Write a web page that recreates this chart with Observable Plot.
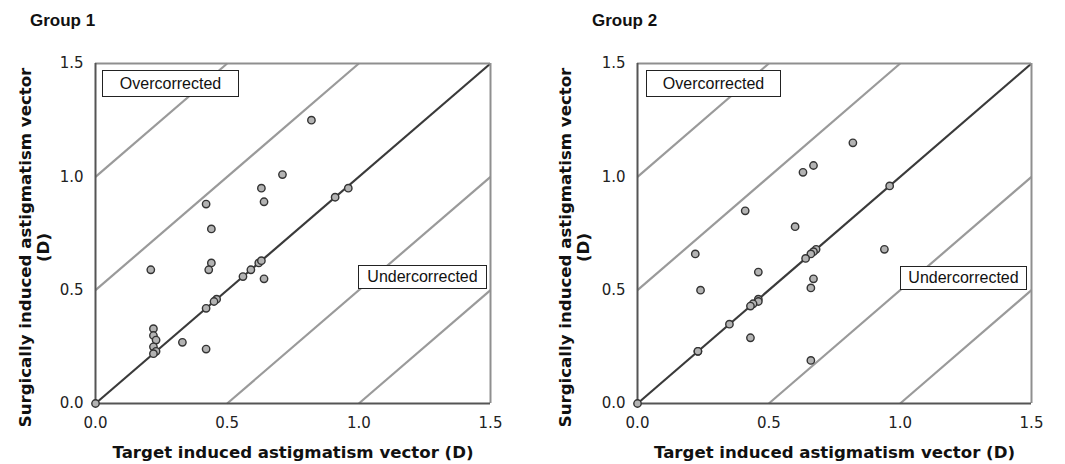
<!DOCTYPE html>
<html>
<head>
<meta charset="utf-8">
<script src="https://cdn.jsdelivr.net/npm/d3@7"></script>
<script src="https://cdn.jsdelivr.net/npm/@observablehq/plot@0.6"></script>
<style>
  html, body { margin: 0; padding: 0; background: white; }
  #fig { position: relative; width: 1065px; height: 464px; overflow: hidden; }
  .panel { position: absolute; top: 0; }
  .gtitle { position: absolute; top: 11px; font: bold 17px "Liberation Sans", Arial, sans-serif; color: #111; }
  .box { position: absolute; box-sizing: border-box; border: 1.5px solid #222; background: white;
         font: 16px "Liberation Sans", Arial, sans-serif; color: #111; display: flex; align-items: center; justify-content: center; }
</style>
</head>
<body>
<div id="fig"></div>
<script>
// ---- data ----
const groupNames = ["Group 1", "Group 2"];
const xTitle = "Target induced astigmatism vector (D)";
const yTitle = "Surgically induced astigmatism vector\n(D)";
const overLabel = "Overcorrected";
const underLabel = "Undercorrected";
const tickValues = [0, 0.5, 1.0, 1.5];
const guideOffsets = [1.0, 0.5, -0.5, -1.0];

const group1Target = [0.00, 0.82, 0.71, 0.63, 0.64, 0.96, 0.91, 0.42, 0.44, 0.44, 0.43, 0.21, 0.59, 0.62, 0.63, 0.56, 0.64, 0.46, 0.45, 0.42, 0.22, 0.22, 0.23, 0.22, 0.23, 0.22, 0.33, 0.42];
const group1Surgical = [0.00, 1.25, 1.01, 0.95, 0.89, 0.95, 0.91, 0.88, 0.77, 0.62, 0.59, 0.59, 0.59, 0.62, 0.63, 0.56, 0.55, 0.46, 0.45, 0.42, 0.33, 0.30, 0.28, 0.25, 0.23, 0.22, 0.27, 0.24];

const group2Target = [0.00, 0.82, 0.67, 0.63, 0.96, 0.41, 0.60, 0.94, 0.68, 0.67, 0.66, 0.64, 0.22, 0.46, 0.67, 0.66, 0.24, 0.46, 0.46, 0.44, 0.43, 0.35, 0.43, 0.23, 0.23, 0.66];
const group2Surgical = [0.00, 1.15, 1.05, 1.02, 0.96, 0.85, 0.78, 0.68, 0.68, 0.67, 0.66, 0.64, 0.66, 0.58, 0.55, 0.51, 0.50, 0.46, 0.45, 0.44, 0.43, 0.35, 0.29, 0.23, 0.23, 0.19];

// ---- drawing ----
const fig = document.getElementById("fig");
const lo = tickValues[0], hi = tickValues[tickValues.length - 1];

function segment(k) {
  const x1 = Math.max(lo, lo - k), x2 = Math.min(hi, hi - k);
  return {k, x1, y1: x1 + k, x2, y2: x2 + k};
}

function panel(cfg) {
  const wrap = document.createElement("div");
  wrap.className = "panel";
  wrap.style.left = cfg.left + "px";
  wrap.style.width = cfg.width + "px";
  wrap.style.height = "464px";

  const pts = d3.range(cfg.xs.length).map(i => ({x: cfg.xs[i], y: cfg.ys[i]}));
  const guides = guideOffsets.map(segment);
  const identity = [segment(0)];

  const chart = Plot.plot({
    width: cfg.width,
    height: 464,
    marginLeft: cfg.marginLeft,
    marginRight: cfg.width - cfg.marginLeft - cfg.plotWidth,
    marginTop: 63,
    marginBottom: 61,
    style: {fontFamily: "'DejaVu Sans', Verdana, sans-serif", fontSize: "15px", color: "#222", background: "white"},
    x: {domain: [lo, hi], ticks: tickValues, tickFormat: d => d.toFixed(1), tickSize: 0, tickPadding: 14, label: null},
    y: {domain: [lo, hi], ticks: tickValues, tickFormat: d => d.toFixed(1), tickSize: 0, tickPadding: 12, label: null},
    marks: [
      Plot.link(guides, {x1: "x1", y1: "y1", x2: "x2", y2: "y2", stroke: "#9a9a9a", strokeWidth: 2.2}),
      Plot.link(identity, {x1: "x1", y1: "y1", x2: "x2", y2: "y2", stroke: "#3a3a3a", strokeWidth: 2.2}),
      Plot.ruleY([hi], {stroke: "#8f8f8f", strokeWidth: 2}),
      Plot.ruleX([hi], {stroke: "#8f8f8f", strokeWidth: 2}),
      Plot.ruleX([lo], {stroke: "#555", strokeWidth: 2}),
      Plot.ruleY([lo], {stroke: "#555", strokeWidth: 2}),
      Plot.dot(pts, {x: "x", y: "y", r: 3.7, fill: "#b3b3b3", stroke: "#333", strokeWidth: 1.4}),
      Plot.text([xTitle], {frameAnchor: "bottom", dy: 54, fontWeight: "bold", fontSize: 16.6, fill: "#111"}),
      Plot.text([yTitle], {frameAnchor: "left", textAnchor: "middle", dx: cfg.yTitleDx, dy: 14, rotate: -90, fontWeight: "bold", fontSize: 16.6, lineHeight: 1.05, fill: "#111"})
    ]
  });
  wrap.appendChild(chart);

  const t = document.createElement("div");
  t.className = "gtitle";
  t.style.left = cfg.titleLeft + "px";
  t.textContent = cfg.name;
  wrap.appendChild(t);

  for (const b of cfg.boxes) {
    const el = document.createElement("div");
    el.className = "box";
    el.style.left = b.left + "px";
    el.style.top = b.top + "px";
    el.style.width = b.w + "px";
    el.style.height = b.h + "px";
    el.textContent = b.text;
    wrap.appendChild(el);
  }
  fig.appendChild(wrap);
}

panel({
  name: groupNames[0], left: 0, width: 532, marginLeft: 95, plotWidth: 395, titleLeft: 30, yTitleDx: -61,
  xs: group1Target, ys: group1Surgical,
  boxes: [
    {text: overLabel, left: 102, top: 70, w: 137, h: 27},
    {text: underLabel, left: 358, top: 265, w: 129, h: 24}
  ]
});
panel({
  name: groupNames[1], left: 532, width: 533, marginLeft: 105, plotWidth: 394, titleLeft: 60, yTitleDx: -63,
  xs: group2Target, ys: group2Surgical,
  boxes: [
    {text: overLabel, left: 114, top: 70, w: 135, h: 27},
    {text: underLabel, left: 368, top: 266, w: 127, h: 24}
  ]
});
</script>
</body>
</html>
